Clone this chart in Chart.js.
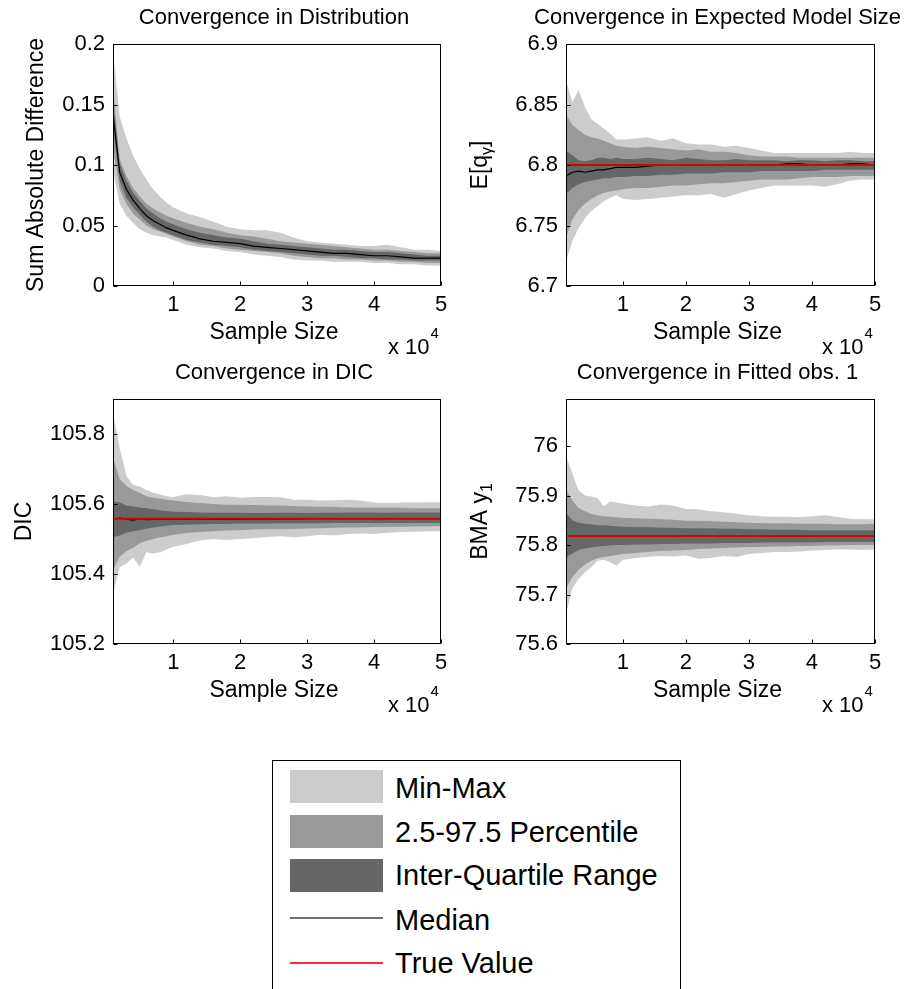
<!DOCTYPE html>
<html>
<head>
<meta charset="utf-8">
<title>Convergence diagnostics</title>
<script src="https://cdn.jsdelivr.net/npm/chart.js@4.4.1/dist/chart.umd.min.js"></script>
<style>
  body { margin: 0; background: #fff; }
  #page { position: relative; width: 912px; height: 989px; overflow: hidden; font-family: "Liberation Sans", Arial, sans-serif; }
  #page canvas { position: absolute; }
  #legend { position: absolute; left: 272px; top: 760px; width: 409px; height: 260px; border: 1px solid #000; box-sizing: border-box; background: #fff; }
  .swatch { position: absolute; left: 17px; width: 93px; height: 33px; }
  .line { position: absolute; left: 17px; width: 93px; height: 2px; }
  .label { position: absolute; left: 122px; font-size: 29px; line-height: 34px; color: #000; white-space: nowrap; }
</style>
</head>
<body>
<div id="page">
  <canvas id="c1" width="456" height="360" style="left:0;top:0"></canvas>
  <canvas id="c2" width="456" height="360" style="left:456px;top:0"></canvas>
  <canvas id="c3" width="456" height="360" style="left:0;top:360px"></canvas>
  <canvas id="c4" width="456" height="360" style="left:456px;top:360px"></canvas>
  <div id="legend">
    <div class="swatch" style="top:9px;background:#cccccc"></div>
    <div class="label" style="top:10px">Min-Max</div>
    <div class="swatch" style="top:54px;background:#999999"></div>
    <div class="label" style="top:54px">2.5-97.5 Percentile</div>
    <div class="swatch" style="top:98px;background:#666666"></div>
    <div class="label" style="top:97px">Inter-Quartile Range</div>
    <div class="line" style="top:156px;background-color:#707070"></div>
    <div class="label" style="top:142px">Median</div>
    <div class="line" style="top:201px;background-color:#ff3030"></div>
    <div class="label" style="top:185px">True Value</div>
  </div>
</div>
<script>
Chart.defaults.font.family = '"Liberation Sans", Arial, sans-serif';
Chart.defaults.color = '#000';

var sampleSize = [1000, 2000, 3000, 4000, 5000, 6000, 7000, 8000, 9000, 10000,
  12000, 14000, 16000, 18000, 20000, 22000, 24000, 26000, 28000, 30000,
  32000, 34000, 36000, 38000, 40000, 42000, 44000, 46000, 48000, 50000];
var xTicks = [10000, 20000, 30000, 40000, 50000];

// Convergence in Distribution
var distMax = [0.195, 0.140, 0.122, 0.108, 0.097, 0.088, 0.080, 0.074, 0.069, 0.065, 0.060, 0.057, 0.053, 0.049, 0.047, 0.046, 0.046, 0.044, 0.040, 0.037, 0.036, 0.035, 0.034, 0.033, 0.033, 0.034, 0.032, 0.030, 0.030, 0.029];
var distP975 = [0.165, 0.105, 0.091, 0.081, 0.074, 0.068, 0.064, 0.061, 0.058, 0.056, 0.052, 0.049, 0.047, 0.044, 0.042, 0.041, 0.039, 0.037, 0.036, 0.035, 0.034, 0.033, 0.032, 0.031, 0.030, 0.030, 0.029, 0.028, 0.027, 0.027];
var distQ75 = [0.152, 0.101, 0.087, 0.077, 0.070, 0.064, 0.060, 0.056, 0.053, 0.051, 0.047, 0.044, 0.042, 0.040, 0.039, 0.037, 0.035, 0.034, 0.033, 0.032, 0.031, 0.030, 0.030, 0.029, 0.028, 0.028, 0.027, 0.026, 0.025, 0.025];
var distMedian = [0.142, 0.094, 0.080, 0.071, 0.064, 0.058, 0.054, 0.051, 0.048, 0.046, 0.042, 0.039, 0.037, 0.036, 0.035, 0.033, 0.032, 0.031, 0.030, 0.029, 0.028, 0.027, 0.027, 0.026, 0.025, 0.025, 0.024, 0.023, 0.023, 0.023];
var distQ25 = [0.132, 0.087, 0.073, 0.065, 0.059, 0.053, 0.049, 0.046, 0.044, 0.042, 0.038, 0.036, 0.034, 0.033, 0.032, 0.030, 0.029, 0.028, 0.027, 0.026, 0.025, 0.025, 0.024, 0.023, 0.023, 0.022, 0.022, 0.021, 0.021, 0.021];
var distP025 = [0.115, 0.080, 0.068, 0.060, 0.055, 0.050, 0.047, 0.045, 0.043, 0.041, 0.037, 0.034, 0.033, 0.031, 0.030, 0.029, 0.028, 0.027, 0.025, 0.024, 0.023, 0.023, 0.022, 0.022, 0.021, 0.021, 0.020, 0.020, 0.019, 0.019];
var distMin = [0.095, 0.068, 0.058, 0.052, 0.047, 0.044, 0.042, 0.041, 0.040, 0.038, 0.034, 0.032, 0.031, 0.029, 0.028, 0.026, 0.025, 0.024, 0.022, 0.021, 0.021, 0.020, 0.020, 0.020, 0.019, 0.019, 0.018, 0.018, 0.017, 0.017];
var distTrue = 0;
var distYTicks = [0, 0.05, 0.1, 0.15, 0.2];

// Convergence in Expected Model Size
var sizeMax = [6.870, 6.852, 6.862, 6.848, 6.838, 6.834, 6.830, 6.826, 6.821, 6.821, 6.822, 6.823, 6.820, 6.822, 6.818, 6.817, 6.817, 6.815, 6.816, 6.814, 6.812, 6.810, 6.810, 6.810, 6.810, 6.810, 6.810, 6.811, 6.810, 6.810];
var sizeP975 = [6.842, 6.833, 6.829, 6.825, 6.823, 6.822, 6.820, 6.818, 6.816, 6.815, 6.814, 6.815, 6.814, 6.813, 6.812, 6.813, 6.811, 6.811, 6.810, 6.808, 6.807, 6.807, 6.807, 6.806, 6.806, 6.806, 6.806, 6.806, 6.806, 6.806];
var sizeQ75 = [6.812, 6.808, 6.804, 6.803, 6.804, 6.806, 6.806, 6.805, 6.806, 6.805, 6.805, 6.806, 6.805, 6.804, 6.806, 6.805, 6.804, 6.804, 6.805, 6.804, 6.804, 6.804, 6.803, 6.804, 6.804, 6.803, 6.804, 6.804, 6.803, 6.803];
var sizeMedian = [6.791, 6.794, 6.795, 6.794, 6.795, 6.796, 6.796, 6.797, 6.798, 6.798, 6.798, 6.799, 6.800, 6.800, 6.800, 6.800, 6.800, 6.800, 6.800, 6.800, 6.800, 6.800, 6.801, 6.801, 6.800, 6.800, 6.800, 6.801, 6.801, 6.800];
var sizeQ25 = [6.776, 6.781, 6.784, 6.786, 6.787, 6.788, 6.789, 6.789, 6.790, 6.790, 6.791, 6.791, 6.792, 6.792, 6.793, 6.793, 6.793, 6.794, 6.794, 6.794, 6.795, 6.795, 6.795, 6.795, 6.795, 6.796, 6.796, 6.796, 6.796, 6.796];
var sizeP025 = [6.740, 6.755, 6.763, 6.768, 6.772, 6.775, 6.777, 6.778, 6.779, 6.780, 6.781, 6.781, 6.782, 6.783, 6.783, 6.784, 6.785, 6.785, 6.786, 6.787, 6.788, 6.788, 6.788, 6.789, 6.790, 6.790, 6.790, 6.791, 6.791, 6.791];
var sizeMin = [6.720, 6.737, 6.748, 6.756, 6.762, 6.766, 6.770, 6.773, 6.775, 6.772, 6.771, 6.772, 6.773, 6.774, 6.775, 6.775, 6.776, 6.773, 6.776, 6.779, 6.781, 6.783, 6.783, 6.783, 6.783, 6.782, 6.784, 6.787, 6.788, 6.788];
var sizeTrue = 6.8;
var sizeYTicks = [6.7, 6.75, 6.8, 6.85, 6.9];

// Convergence in DIC
var dicMax = [105.860, 105.760, 105.680, 105.655, 105.650, 105.640, 105.632, 105.628, 105.622, 105.620, 105.628, 105.626, 105.620, 105.622, 105.618, 105.620, 105.620, 105.619, 105.612, 105.612, 105.610, 105.611, 105.612, 105.610, 105.604, 105.603, 105.604, 105.604, 105.605, 105.605];
var dicP975 = [105.735, 105.670, 105.652, 105.640, 105.632, 105.622, 105.618, 105.615, 105.612, 105.610, 105.606, 105.603, 105.600, 105.598, 105.598, 105.597, 105.596, 105.596, 105.594, 105.593, 105.592, 105.592, 105.590, 105.590, 105.590, 105.590, 105.589, 105.588, 105.588, 105.588];
var dicQ75 = [105.608, 105.604, 105.596, 105.593, 105.590, 105.588, 105.585, 105.582, 105.580, 105.578, 105.577, 105.576, 105.575, 105.575, 105.575, 105.574, 105.574, 105.575, 105.575, 105.574, 105.575, 105.575, 105.576, 105.576, 105.576, 105.575, 105.576, 105.576, 105.576, 105.576];
var dicMedian = [105.556, 105.560, 105.557, 105.554, 105.558, 105.555, 105.556, 105.557, 105.556, 105.556, 105.557, 105.556, 105.557, 105.556, 105.556, 105.557, 105.557, 105.557, 105.557, 105.558, 105.558, 105.558, 105.558, 105.558, 105.558, 105.558, 105.558, 105.558, 105.558, 105.558];
var dicQ25 = [105.505, 105.510, 105.518, 105.522, 105.525, 105.530, 105.533, 105.536, 105.538, 105.540, 105.541, 105.542, 105.543, 105.543, 105.544, 105.544, 105.544, 105.545, 105.545, 105.545, 105.545, 105.546, 105.546, 105.546, 105.546, 105.546, 105.546, 105.546, 105.546, 105.546];
var dicP025 = [105.410, 105.450, 105.465, 105.475, 105.488, 105.495, 105.500, 105.505, 105.508, 105.512, 105.517, 105.520, 105.522, 105.524, 105.525, 105.527, 105.528, 105.528, 105.529, 105.530, 105.531, 105.532, 105.533, 105.533, 105.534, 105.535, 105.535, 105.536, 105.536, 105.537];
var dicMin = [105.340, 105.420, 105.430, 105.448, 105.420, 105.462, 105.458, 105.462, 105.470, 105.478, 105.486, 105.496, 105.500, 105.497, 105.500, 105.502, 105.506, 105.508, 105.505, 105.508, 105.512, 105.510, 105.514, 105.516, 105.514, 105.518, 105.520, 105.521, 105.522, 105.522];
var dicTrue = 105.558;
var dicYTicks = [105.2, 105.4, 105.6, 105.8];

// Convergence in Fitted obs. 1
var fitMax = [75.980, 75.945, 75.910, 75.900, 75.898, 75.895, 75.878, 75.888, 75.886, 75.884, 75.880, 75.878, 75.882, 75.880, 75.873, 75.872, 75.868, 75.866, 75.863, 75.860, 75.858, 75.857, 75.857, 75.856, 75.858, 75.860, 75.857, 75.853, 75.852, 75.852];
var fitP975 = [75.912, 75.890, 75.875, 75.868, 75.863, 75.860, 75.858, 75.857, 75.856, 75.855, 75.854, 75.853, 75.852, 75.851, 75.849, 75.849, 75.848, 75.847, 75.846, 75.845, 75.844, 75.844, 75.844, 75.843, 75.843, 75.843, 75.842, 75.842, 75.842, 75.843];
var fitQ75 = [75.865, 75.850, 75.845, 75.843, 75.842, 75.840, 75.840, 75.839, 75.838, 75.837, 75.836, 75.836, 75.835, 75.835, 75.834, 75.834, 75.834, 75.833, 75.833, 75.832, 75.832, 75.831, 75.831, 75.831, 75.830, 75.830, 75.830, 75.830, 75.830, 75.830];
var fitMedian = [75.818, 75.819, 75.819, 75.818, 75.819, 75.818, 75.819, 75.819, 75.818, 75.818, 75.818, 75.818, 75.818, 75.819, 75.819, 75.819, 75.818, 75.819, 75.819, 75.818, 75.818, 75.818, 75.818, 75.818, 75.818, 75.818, 75.818, 75.818, 75.818, 75.818];
var fitQ25 = [75.775, 75.783, 75.790, 75.793, 75.795, 75.797, 75.798, 75.799, 75.800, 75.800, 75.801, 75.801, 75.802, 75.802, 75.803, 75.803, 75.803, 75.804, 75.804, 75.804, 75.805, 75.805, 75.805, 75.805, 75.805, 75.806, 75.806, 75.806, 75.806, 75.806];
var fitP025 = [75.712, 75.735, 75.750, 75.760, 75.768, 75.773, 75.776, 75.778, 75.780, 75.782, 75.784, 75.786, 75.788, 75.789, 75.790, 75.792, 75.793, 75.794, 75.795, 75.796, 75.796, 75.797, 75.797, 75.798, 75.798, 75.799, 75.799, 75.800, 75.800, 75.800];
var fitMin = [75.660, 75.712, 75.732, 75.745, 75.755, 75.768, 75.770, 75.765, 75.758, 75.770, 75.774, 75.776, 75.778, 75.777, 75.779, 75.772, 75.774, 75.778, 75.776, 75.782, 75.784, 75.786, 75.786, 75.787, 75.789, 75.790, 75.791, 75.791, 75.790, 75.791];
var fitTrue = 75.818;
var fitYTicks = [75.6, 75.7, 75.8, 75.9, 76];

var light = '#cccccc', mid = '#999999', dark = '#666666';
var FONT = '"Liberation Sans", Arial, sans-serif';

function pts(arr) {
    return arr.map(function (v, i) { return { x: sampleSize[i], y: v }; });
}

function edge(arr, colour) {
    // upper edge fills down to the next dataset, lower edge is invisible
    return { data: pts(arr), borderWidth: 0, borderColor: 'transparent', backgroundColor: colour || 'transparent', fill: colour ? '+1' : false };
}

// box, inward ticks and the matlab-ish labels
function axesPlugin(o) {
    return {
        id: 'axesPlugin',
        afterDatasetsDraw: function (chart) {
            var ctx = chart.ctx, a = chart.chartArea;
            var l = Math.round(a.left) + 0.5, r = Math.round(a.right) - 0.5;
            var t = Math.round(a.top) + 0.5, b = Math.round(a.bottom) - 0.5;
            ctx.save();
            ctx.strokeStyle = '#000';
            ctx.lineWidth = 1;
            ctx.strokeRect(l, t, r - l, b - t);
            ctx.beginPath();
            xTicks.forEach(function (v) {
                var x = Math.round(chart.scales.x.getPixelForValue(v)) + 0.5;
                ctx.moveTo(x, b); ctx.lineTo(x, b - 4);
            });
            o.yTicks.forEach(function (v) {
                var y = Math.round(chart.scales.y.getPixelForValue(v)) + 0.5;
                ctx.moveTo(l, y); ctx.lineTo(l + 4, y);
            });
            ctx.stroke();
            ctx.restore();
        },
        afterDraw: function (chart) {
            var ctx = chart.ctx, a = chart.chartArea;
            var cx = (a.left + a.right) / 2 - 3;
            ctx.save();
            ctx.fillStyle = '#000';
            ctx.textBaseline = 'alphabetic';
            ctx.textAlign = 'center';
            ctx.font = '22px ' + FONT;
            ctx.fillText(o.title, cx, a.top - 20);
            ctx.font = '23px ' + FONT;
            ctx.textBaseline = 'middle';
            ctx.fillText('Sample Size', cx, a.bottom + 47);
            ctx.textBaseline = 'alphabetic';
            ctx.textAlign = 'left';
            ctx.font = '22px ' + FONT;
            var ex = a.right - 53;
            ctx.fillText('x 10', ex, a.bottom + 68);
            var w = ctx.measureText('x 10').width;
            ctx.font = '15px ' + FONT;
            ctx.fillText('4', ex + w + 1, a.bottom + 52);

            // rotated y label with optional subscript
            ctx.translate(o.ylabelX, (a.top + a.bottom) / 2);
            ctx.rotate(-Math.PI / 2);
            var total = 0;
            o.ylabel.forEach(function (p) {
                ctx.font = (p.sub ? 16 : 23) + 'px ' + FONT;
                p.w = ctx.measureText(p.t).width;
                total += p.w;
            });
            var x = -total / 2;
            o.ylabel.forEach(function (p) {
                ctx.font = (p.sub ? 16 : 23) + 'px ' + FONT;
                ctx.fillText(p.t, x, p.sub ? 5 : 0);
                x += p.w;
            });
            ctx.restore();
        }
    };
}

function panel(id, o) {
    var a = o.area;
    new Chart(document.getElementById(id), {
        type: 'line',
        data: {
            datasets: [
                { data: [{ x: sampleSize[0], y: o.truth }, { x: sampleSize[sampleSize.length - 1], y: o.truth }],
                  borderColor: '#dd0000', borderWidth: 2, fill: false },
                { data: pts(o.median), borderColor: '#000', borderWidth: 1.2, fill: false },
                edge(o.q75, dark), edge(o.q25),
                edge(o.p975, mid), edge(o.p025),
                edge(o.max, light), edge(o.min)
            ]
        },
        options: {
            responsive: false,
            animation: false,
            devicePixelRatio: 1,
            layout: { padding: { left: 0, top: a.top, right: 456 - a.right, bottom: 0 } },
            elements: { point: { radius: 0 }, line: { tension: 0 } },
            plugins: { legend: { display: false }, tooltip: { enabled: false }, title: { display: false } },
            scales: {
                x: {
                    type: 'linear', min: 1000, max: 50000, bounds: 'data',
                    grid: { display: false, drawTicks: false },
                    border: { display: false },
                    afterBuildTicks: function (s) { s.ticks = xTicks.map(function (v) { return { value: v }; }); },
                    afterFit: function (s) { s.height = 360 - a.bottom; },
                    ticks: { font: { size: 22 }, padding: 6, maxRotation: 0, autoSkip: false,
                             callback: function (v) { return String(v / 10000); } }
                },
                y: {
                    type: 'linear', min: o.yMin, max: o.yMax, bounds: 'data',
                    grid: { display: false, drawTicks: false },
                    border: { display: false },
                    afterBuildTicks: function (s) { s.ticks = o.yTicks.map(function (v) { return { value: v }; }); },
                    afterFit: function (s) { s.width = a.left; },
                    ticks: { font: { size: 22 }, padding: 8, autoSkip: false,
                             callback: function (v) { return String(v); } }
                }
            }
        },
        plugins: [axesPlugin(o)]
    });
}

panel('c1', {
    title: 'Convergence in Distribution', ylabel: [{ t: 'Sum Absolute Difference' }], ylabelX: 43,
    area: { left: 113, right: 441, top: 44, bottom: 286 },
    yMin: 0, yMax: 0.2, yTicks: distYTicks, truth: distTrue,
    max: distMax, p975: distP975, q75: distQ75, median: distMedian, q25: distQ25, p025: distP025, min: distMin
});
panel('c2', {
    title: 'Convergence in Expected Model Size', ylabel: [{ t: 'E[q' }, { t: 'γ', sub: true }, { t: ']' }], ylabelX: 31,
    area: { left: 110, right: 419, top: 44, bottom: 286 },
    yMin: 6.7, yMax: 6.9, yTicks: sizeYTicks, truth: sizeTrue,
    max: sizeMax, p975: sizeP975, q75: sizeQ75, median: sizeMedian, q25: sizeQ25, p025: sizeP025, min: sizeMin
});
panel('c3', {
    title: 'Convergence in DIC', ylabel: [{ t: 'DIC' }], ylabelX: 31,
    area: { left: 113, right: 441, top: 39, bottom: 284 },
    yMin: 105.2, yMax: 105.9, yTicks: dicYTicks, truth: dicTrue,
    max: dicMax, p975: dicP975, q75: dicQ75, median: dicMedian, q25: dicQ25, p025: dicP025, min: dicMin
});
panel('c4', {
    title: 'Convergence in Fitted obs. 1', ylabel: [{ t: 'BMA y' }, { t: '1', sub: true }], ylabelX: 31,
    area: { left: 110, right: 419, top: 39, bottom: 284 },
    yMin: 75.6, yMax: 76.095, yTicks: fitYTicks, truth: fitTrue,
    max: fitMax, p975: fitP975, q75: fitQ75, median: fitMedian, q25: fitQ25, p025: fitP025, min: fitMin
});
</script>
</body>
</html>
